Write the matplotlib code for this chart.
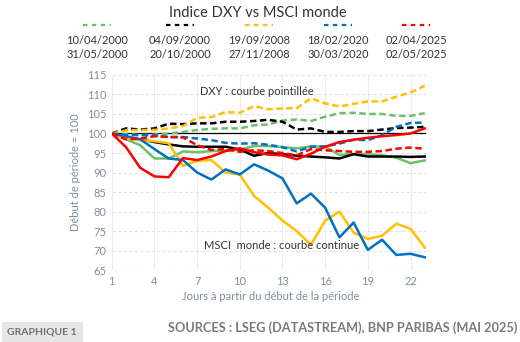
import matplotlib
matplotlib.use("Agg")
import matplotlib.pyplot as plt
from matplotlib.patches import Rectangle

plt.rcParams['font.family'] = ['Lato', 'DejaVu Sans']

days = list(range(1, 24))

# MSCI monde (courbes continues)
msci_2000a = [100, 98.5, 97.0, 93.6, 93.6, 95.4, 95.2, 95.5, 95.6, 95.8, 96.8, 96.8,
              96.5, 96.2, 96.7, 96.6, 94.5, 94.8, 94.7, 94.4, 93.8, 92.4, 93.1]
msci_2000b = [100, 99.0, 98.5, 97.8, 97.2, 96.7, 96.6, 96.6, 96.6, 95.9, 94.3, 95.0,
              94.7, 94.3, 94.1, 93.9, 93.6, 94.7, 94.1, 94.1, 94.1, 94.0, 94.1]
msci_2008 = [100, 98.7, 98.3, 98.0, 97.5, 91.7, 93.0, 93.2, 90.0, 89.5, 84.0, 81.0,
             77.7, 75.0, 71.5, 77.7, 80.0, 74.6, 73.0, 73.8, 76.9, 75.6, 70.8]
msci_2020 = [100, 99.3, 98.5, 96.0, 93.6, 93.2, 90.0, 88.2, 90.8, 89.5, 92.1, 90.5,
             88.5, 82.1, 84.6, 81.0, 73.4, 77.2, 70.2, 72.8, 68.9, 69.2, 68.3]
msci_2025 = [100, 96.5, 91.2, 89.0, 88.8, 93.7, 93.2, 94.1, 95.5, 96.2, 95.2, 94.6,
             94.4, 93.4, 94.8, 96.6, 97.8, 98.4, 98.9, 99.3, 99.6, 100.0, 101.3]

# DXY (courbes pointillees)
dxy_2000a = [100, 99.8, 99.6, 99.7, 100.0, 100.4, 100.9, 101.2, 101.3, 101.3, 102.1, 102.3,
             103.3, 103.6, 103.2, 104.3, 105.2, 105.3, 105.0, 105.0, 104.5, 104.5, 105.2]
dxy_2000b = [100, 101.3, 101.0, 101.3, 102.5, 102.4, 102.6, 102.6, 103.0, 103.0, 103.2, 103.5,
             103.0, 101.0, 101.3, 100.4, 100.4, 100.6, 100.6, 101.0, 101.4, 101.5, 101.7]
dxy_2008 = [100, 100.8, 100.9, 100.9, 101.3, 101.9, 104.0, 104.2, 105.5, 105.3, 107.0, 106.2,
            106.4, 106.5, 109.0, 107.7, 106.9, 107.6, 108.2, 108.2, 109.4, 110.5, 112.2]
dxy_2020 = [100, 99.6, 99.6, 99.5, 99.1, 99.1, 98.7, 98.3, 97.6, 97.4, 97.5, 97.1,
            96.5, 95.4, 96.6, 96.7, 97.4, 98.4, 98.3, 99.6, 101.7, 102.7, 102.8]
dxy_2025 = [100, 98.5, 98.7, 99.3, 99.1, 99.0, 97.0, 95.8, 96.0, 95.3, 95.7, 95.5,
            95.0, 94.4, 96.0, 95.7, 95.5, 95.3, 95.3, 95.5, 96.1, 96.4, 96.1]

periods = [("10/04/2000", "31/05/2000"), ("04/09/2000", "20/10/2000"),
           ("19/09/2008", "27/11/2008"), ("18/02/2020", "30/03/2020"),
           ("02/04/2025", "02/05/2025")]
colors = ["#6dbf6a", "#000000", "#ffc000", "#0070c0", "#ff0000"]
msci = [msci_2000a, msci_2000b, msci_2008, msci_2020, msci_2025]
dxy = [dxy_2000a, dxy_2000b, dxy_2008, dxy_2020, dxy_2025]

fig = plt.figure(figsize=(5.2, 3.42), dpi=100)
ax = fig.add_axes([0.215, 0.21, 0.61, 0.571])

ax.plot([1, 23], [100, 100], color="black", lw=0.9, zorder=2)
for c, m, d in zip(colors, msci, dxy):
    ax.plot(days, m, color=c, lw=1.8, zorder=3)
    ax.plot(days, d, color=c, lw=1.8, ls=(0, (2.6, 1.4)), zorder=3)

ax.set_xlim(1, 23.3)
ax.set_ylim(65, 115)
ax.set_xticks(range(1, 23, 3))
ax.set_yticks(range(65, 116, 5))
ax.grid(axis="y", color="#e4e4e4", ls=(0, (3, 2)), lw=0.8)
ax.grid(axis="x", color="#ececec", lw=0.8)
ax.set_axisbelow(True)
for s in ax.spines.values():
    s.set_visible(False)
ax.tick_params(length=0, labelsize=8, colors="#7f8ea3", pad=4)
ax.set_ylabel("Début de période = 100", fontsize=8, color="#7f8ea3", labelpad=4)
ax.set_xlabel("Jours à partir du début de la période", fontsize=8, color="#7f8ea3", labelpad=3)

ax.text(7.2, 109.9, "DXY : courbe pointillée", fontsize=8, color="#333333")
ax.text(7.5, 70.4, "MSCI  monde : courbe continue", fontsize=8, color="#333333")

fig.text(0.495, 0.962, "Indice DXY vs MSCI monde", ha="center", va="center",
         fontsize=10.5, color="#333333")

xs = [97, 180, 259, 338, 416]
for x, c, (a, b) in zip(xs, colors, periods):
    fig.add_artist(plt.Line2D([(x - 14) / 520, (x + 14) / 520], [1 - 25 / 342] * 2,
                              color=c, lw=1.6, ls=(0, (2, 2)), transform=fig.transFigure))
    fig.text(x / 520, 1 - 40 / 342, a, ha="center", va="center", fontsize=8, color="#333333")
    fig.text(x / 520, 1 - 54 / 342, b, ha="center", va="center", fontsize=8, color="#333333")

fig.add_artist(Rectangle((2 / 520, 0), 81 / 520, 20 / 342, transform=fig.transFigure,
                         facecolor="#e6e6e6", edgecolor="none"))
fig.text(42 / 520, 10 / 342, "GRAPHIQUE 1", ha="center", va="center", fontsize=7.5,
         fontweight="bold", color="#6f6f6f")
fig.text(517 / 520, 14 / 342, "SOURCES : LSEG (DATASTREAM), BNP PARIBAS (MAI 2025)",
         ha="right", va="center", fontsize=9.2, fontweight="bold", color="#7a7a7a")

fig.savefig("out.png", dpi=100)
